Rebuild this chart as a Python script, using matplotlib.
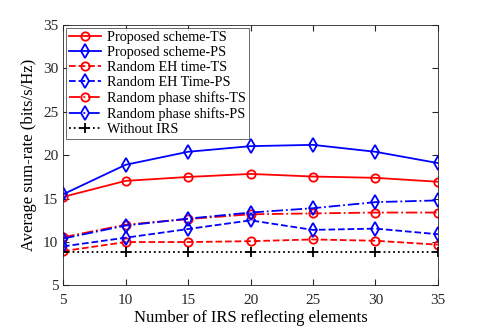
import matplotlib
matplotlib.use("Agg")
import matplotlib.pyplot as plt

plt.rcParams['font.family'] = ['Liberation Serif', 'DejaVu Serif']

# data
n_elements = [5, 10, 15, 20, 25, 30, 35]
proposed_ts = [15.2, 17.05, 17.5, 17.85, 17.55, 17.4, 16.95]
proposed_ps = [15.5, 18.9, 20.4, 21.05, 21.2, 20.4, 19.1]
rand_eh_ts = [8.95, 10.0, 10.0, 10.1, 10.3, 10.15, 9.7]
rand_eh_ps = [9.5, 10.5, 11.5, 12.5, 11.4, 11.55, 10.9]
rand_ph_ts = [10.55, 12.0, 12.65, 13.2, 13.3, 13.4, 13.4]
rand_ph_ps = [10.4, 11.9, 12.7, 13.4, 13.9, 14.6, 14.8]
no_irs = [8.85, 8.85, 8.85, 8.85, 8.85, 8.85, 8.85]

fig = plt.figure(figsize=(4.85, 3.3), dpi=100)
ax = fig.add_axes([0.130, 0.135, 0.773, 0.789])

lw = 1.3
ms = 6
ax.plot(n_elements, proposed_ts, '-o', color='red', lw=lw, ms=ms, mfc='none', mew=1.3, label='Proposed scheme-TS')
ax.plot(n_elements, proposed_ps, '-d', color='blue', lw=lw, ms=ms + 1, mfc='none', mew=1.3, label='Proposed scheme-PS')
ax.plot(n_elements, rand_eh_ts, '--o', color='red', lw=lw, ms=ms, mfc='none', mew=1.3, label='Random EH time-TS')
ax.plot(n_elements, rand_eh_ps, '--d', color='blue', lw=lw, ms=ms + 1, mfc='none', mew=1.3, label='Random EH Time-PS')
ax.plot(n_elements, rand_ph_ts, '-.o', color='red', lw=lw, ms=ms, mfc='none', mew=1.3, label='Random phase shifts-TS')
ax.plot(n_elements, rand_ph_ps, '-.d', color='blue', lw=lw, ms=ms + 1, mfc='none', mew=1.3, label='Random phase shifts-PS')
ax.plot(n_elements, no_irs, ':+', color='black', lw=lw, ms=ms + 1, mew=1.3, label='Without IRS')

ax.set_xlim(5, 35)
ax.set_ylim(5, 35)
ax.set_xticks(range(5, 36, 5))
ax.set_yticks(range(5, 36, 5))
ax.tick_params(direction='in', top=True, right=True, labelsize=11, colors='#262626', length=4)
ax.tick_params(axis='x', pad=6)
for s in ax.spines.values():
    s.set_color('#262626')
    s.set_linewidth(0.6)

ax.set_xlabel('Number of IRS reflecting elements', fontsize=12, labelpad=2)
ax.set_ylabel('Average sum-rate (bits/s/Hz)', fontsize=12, labelpad=4)

leg = ax.legend(loc='upper left', fontsize=10.2, frameon=True, fancybox=False,
                edgecolor='#262626', borderpad=0.2, labelspacing=0.15,
                handlelength=2.3, handletextpad=0.4, borderaxespad=0.2)
leg.get_frame().set_linewidth(0.6)

fig.savefig('out.png', dpi=100)
